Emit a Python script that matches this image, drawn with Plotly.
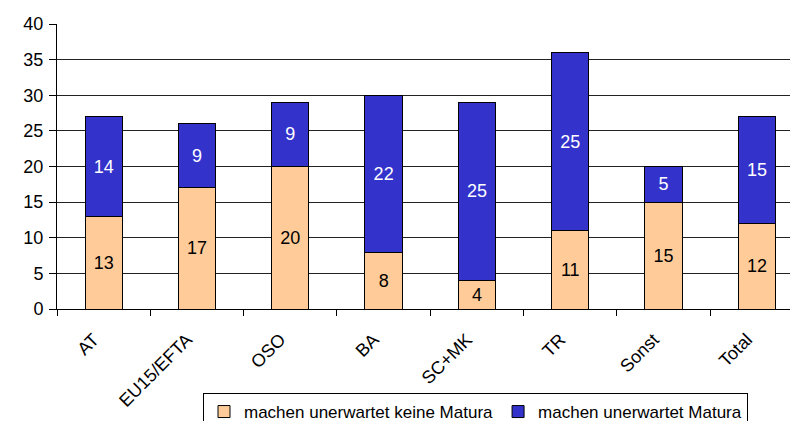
import plotly.graph_objects as go

categories = ["AT", "EU15/EFTA", "OSO", "BA", "SC+MK", "TR", "Sonst", "Total"]
keine_matura = [13, 17, 20, 8, 4, 11, 15, 12]
matura = [14, 9, 9, 22, 25, 25, 5, 15]
y_ticks = [0, 5, 10, 15, 20, 25, 30, 35, 40]

# the page places the figure 8px from the top-left corner of the window
W, H = 790, 413
L, R, T, B = 49, 0, 16, 112

FONT = "Liberation Sans, Arial, sans-serif"

fig = go.Figure()
fig.add_trace(go.Bar(
    x=categories, y=keine_matura, name="machen unerwartet keine Matura",
    marker=dict(color="#FFCC99", line=dict(color="#000000", width=1)),
    text=keine_matura, textposition="inside", insidetextanchor="middle",
    textangle=0, textfont=dict(color="#000000", size=18, family=FONT),
    width=0.4,
))
fig.add_trace(go.Bar(
    x=categories, y=matura, name="machen unerwartet Matura",
    marker=dict(color="#3333CC", line=dict(color="#000000", width=1)),
    text=matura, textposition="inside", insidetextanchor="middle",
    textangle=0, textfont=dict(color="#FFFFFF", size=18, family=FONT),
    width=0.4,
))

pw, ph = W - L - R, H - T - B

fig.update_layout(
    width=W, height=H,
    margin=dict(l=L, r=R, t=T, b=B, pad=0, autoexpand=False),
    barmode="stack",
    paper_bgcolor="#FFFFFF",
    plot_bgcolor="#FFFFFF",
    font=dict(family=FONT, size=18, color="#000000"),
    showlegend=True,
    legend=dict(
        orientation="h", x=(195 - L) / pw, y=(H - B - 385) / ph,
        xanchor="left", yanchor="top",
        bgcolor="#FFFFFF", bordercolor="#000000", borderwidth=1,
        font=dict(size=17, family=FONT, color="#000000"),
        itemwidth=30, traceorder="normal",
    ),
    xaxis=dict(
        type="category", range=[-0.5, len(categories) - 0.5 - 0.06],
        automargin=False,
        showline=True, linecolor="#000000", linewidth=1,
        ticks="outside", tickson="boundaries", ticklen=6, tickcolor="#000000",
        tickangle=-45, showgrid=False, tickfont=dict(size=18),
        ticklabelstandoff=12, ticklabelshift=-10,
    ),
    yaxis=dict(
        range=[0, 40], tickvals=y_ticks, automargin=False,
        showline=True, linecolor="#000000", linewidth=1,
        ticks="outside", ticklen=7, tickcolor="#000000",
        showgrid=True, gridcolor="#222222", gridwidth=1,
        zeroline=False, tickfont=dict(size=18), ticklabelstandoff=2,
    ),
)

fig.write_html("out.html")
